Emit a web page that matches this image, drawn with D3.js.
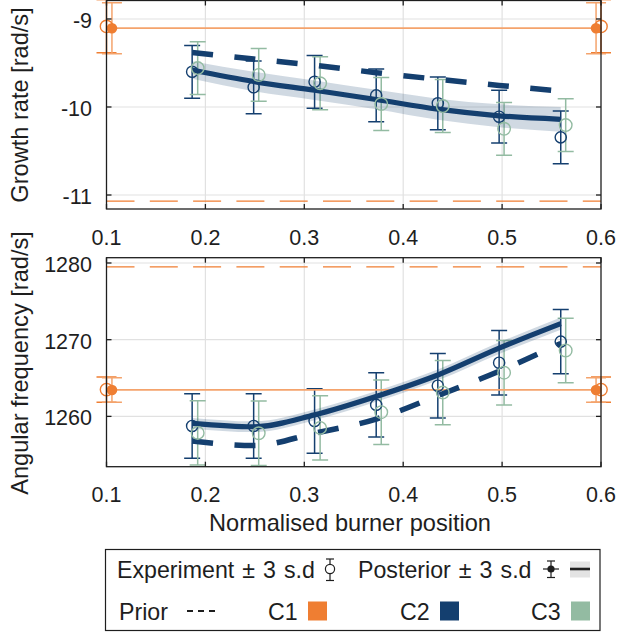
<!DOCTYPE html>
<html><head><meta charset="utf-8">
<script src="https://cdn.jsdelivr.net/npm/d3@7"></script>
<style>
html,body{margin:0;padding:0;background:#fff;}
svg{display:block;font-family:"Liberation Sans",Arial,Helvetica,sans-serif;}
</style></head>
<body><svg id="chart" width="619" height="634"></svg>
<script>
// ---------- data ----------
const xTicks = [0.1, 0.2, 0.3, 0.4, 0.5, 0.6];
const growthTicks = [-11, -10, -9];
const freqTicks = [1260, 1270, 1280];

const c2PosX = [0.1866, 0.2488, 0.3104, 0.3727, 0.435, 0.497, 0.5593];
const c3PosX = [0.1922, 0.2539, 0.316, 0.3778, 0.44, 0.502, 0.5643];

// growth rate
const c2GrowthExp = [-9.60, -9.776, -9.714, -9.868, -9.958, -10.11, -10.345];
const c3GrowthExp = [-9.558, -9.636, -9.73, -9.966, -9.989, -10.248, -10.206];
const c2GrowthErr = [0.30, 0.30, 0.30, 0.30, 0.30, 0.30, 0.30];
const c3GrowthErr = [0.30, 0.30, 0.30, 0.30, 0.30, 0.30, 0.30];
const c2GrowthPost = [-9.58, -9.71, -9.81, -9.915, -10.025, -10.10, -10.14];
const c2GrowthPostBand = [0.10, 0.11, 0.11, 0.11, 0.12, 0.13, 0.14];
const c2GrowthPrior = [-9.38, -9.455, -9.525, -9.61, -9.685, -9.755, -9.82];

// angular frequency
const c2FreqExp = [1258.75, 1258.75, 1259.4, 1261.5, 1264.0, 1267.0, 1269.75];
const c3FreqExp = [1257.85, 1257.8, 1258.5, 1260.55, 1263.1, 1265.7, 1268.6];
const c2FreqErr = [4.2, 4.2, 4.2, 4.2, 4.2, 4.2, 4.2];
const c3FreqErr = [4.2, 4.2, 4.2, 4.2, 4.2, 4.2, 4.2];
const c2FreqPost = [1259.1, 1258.65, 1260.2, 1262.6, 1265.4, 1268.9, 1272.1];
const c2FreqPostBand = [0.7, 0.7, 0.7, 0.7, 0.7, 0.75, 0.8];
const c2FreqPrior = [1256.8, 1256.2, 1257.8, 1259.65, 1262.7, 1265.9, 1269.5];

// C1 (flat case)
const c1LineX = [0.1, 0.6];
const c1ExpX = [0.1, 0.6];
const c1PostX = [0.1055, 0.595];
const c1GrowthExp = [-9.085, -9.085];
const c1GrowthExpErr = [0.30, 0.30];
const c1GrowthPost = [-9.105, -9.105];
const c1GrowthPostErr = [0.29, 0.29];
const c1GrowthPrior = [-11.07, -11.07];
const c1FreqExp = [1263.5, 1263.5];
const c1FreqExpErr = [1.65, 1.65];
const c1FreqPost = [1263.45, 1263.45];
const c1FreqPostErr = [1.6, 1.6];
const c1FreqPrior = [1279.5, 1279.5];

const legendRow1 = ["Experiment \u00b1 3 s.d", "Posterior \u00b1 3 s.d"];
const legendRow2 = ["Prior", "C1", "C2", "C3"];

// ---------- styles ----------
const C1 = "#EF7E32", C1L = "#F4A36C", C2 = "#143F6F", C3 = "#93BBA2";
const INK = "#1e1e1e", GRID = "#e1e1e1";
const FONT_TICK = 21.5, FONT_LAB = 23.6, FONT_LEG = 23.2;

const svg = d3.select("#chart");
const xL = 106.5, xR = 601;
const x = d3.scaleLinear().domain([0.1, 0.6]).range([xL, xR]);

const panels = [
  {top: 0.5, bot: 209, domain: [-11.159, -8.79], ticks: growthTicks, label: "Growth rate [rad/s]",
   c2Exp: c2GrowthExp, c3Exp: c3GrowthExp, c2Err: c2GrowthErr, c3Err: c3GrowthErr,
   post: c2GrowthPost, band: c2GrowthPostBand, prior: c2GrowthPrior,
   c1Exp: c1GrowthExp, c1ExpErr: c1GrowthExpErr, c1Post: c1GrowthPost, c1PostErr: c1GrowthPostErr, c1Prior: c1GrowthPrior},
  {top: 257.7, bot: 466.7, domain: [1253.44, 1280.69], ticks: freqTicks, label: "Angular frequency [rad/s]",
   c2Exp: c2FreqExp, c3Exp: c3FreqExp, c2Err: c2FreqErr, c3Err: c3FreqErr,
   post: c2FreqPost, band: c2FreqPostBand, prior: c2FreqPrior,
   c1Exp: c1FreqExp, c1ExpErr: c1FreqExpErr, c1Post: c1FreqPost, c1PostErr: c1FreqPostErr, c1Prior: c1FreqPrior}
];

let p;
function errorBars(g, xs, ys, es, color, cap, sw) {
  xs.forEach((xv, i) => {
    const cx = x(xv), y0 = p.y(ys[i] - es[i]), y1 = p.y(ys[i] + es[i]);
    g.append("line").attr("x1", cx).attr("x2", cx).attr("y1", y0).attr("y2", y1)
      .attr("stroke", color).attr("stroke-width", sw);
    [y0, y1].forEach(yy => g.append("line").attr("x1", cx - cap/2).attr("x2", cx + cap/2)
      .attr("y1", yy).attr("y2", yy).attr("stroke", color).attr("stroke-width", sw));
  });
}

panels.forEach((pp, k) => {
  p = pp;
  p.y = d3.scaleLinear().domain(p.domain).range([p.bot, p.top]);
  const g = svg.append("g");
  const clipId = "clip" + k;
  svg.append("clipPath").attr("id", clipId).append("rect")
    .attr("x", 0).attr("y", p.top).attr("width", 619).attr("height", p.bot - p.top);
  const clipXY = "clipxy" + k;
  svg.append("clipPath").attr("id", clipXY).append("rect")
    .attr("x", xL).attr("y", p.top).attr("width", xR - xL).attr("height", p.bot - p.top);

  // grid
  xTicks.slice(1, -1).forEach(t => g.append("line").attr("x1", x(t)).attr("x2", x(t))
    .attr("y1", p.top).attr("y2", p.bot).attr("stroke", GRID).attr("stroke-width", 1.2));
  p.ticks.forEach(t => g.append("line").attr("x1", xL).attr("x2", xR)
    .attr("y1", p.y(t)).attr("y2", p.y(t)).attr("stroke", GRID).attr("stroke-width", 1.2));

  const gc = g.append("g").attr("clip-path", `url(#${clipId})`);
  const gxy = g.append("g").attr("clip-path", `url(#${clipXY})`);

  // band
  const area = d3.area().x((d, i) => x(c2PosX[i]))
    .y0((d, i) => p.y(p.post[i] - p.band[i])).y1((d, i) => p.y(p.post[i] + p.band[i]))
    .curve(d3.curveMonotoneX);
  gxy.append("path").attr("d", area(p.post)).attr("fill", C2).attr("fill-opacity", 0.2);

  // C1 lines
  const hline = d3.line().x((d, i) => x(c1LineX[i])).y(d => p.y(d));
  gxy.append("path").attr("d", hline(p.c1Prior)).attr("fill", "none").attr("stroke", C1)
    .attr("stroke-width", 1.3).attr("stroke-dasharray", "28,15.3");
  gxy.append("path").attr("d", hline(p.c1Post)).attr("fill", "none").attr("stroke", C1L)
    .attr("stroke-width", 1.8);

  // posterior and prior lines
  const line = d3.line().x((d, i) => x(c2PosX[i])).y(d => p.y(d)).curve(d3.curveMonotoneX);
  gxy.append("path").attr("d", line(p.post)).attr("fill", "none").attr("stroke", C2)
    .attr("stroke-width", 5.2);
  gxy.append("path").attr("d", line(p.prior)).attr("fill", "none").attr("stroke", C2)
    .attr("stroke-width", 5.5).attr("stroke-dasharray", "21,21.5");

  // experiments
  errorBars(gc, c2PosX, p.c2Exp, p.c2Err, C2, 16, 1.5);
  errorBars(gc, c3PosX, p.c3Exp, p.c3Err, C3, 16, 1.5);
  c2PosX.forEach((xv, i) => g.append("circle").attr("cx", x(xv)).attr("cy", p.y(p.c2Exp[i]))
    .attr("r", 5.6).attr("fill", "none").attr("stroke", C2).attr("stroke-width", 1.4));
  c3PosX.forEach((xv, i) => g.append("circle").attr("cx", x(xv)).attr("cy", p.y(p.c3Exp[i]))
    .attr("r", 6.3).attr("fill", "none").attr("stroke", C3).attr("stroke-width", 1.4));

  // C1 markers
  errorBars(gc, c1ExpX, p.c1Exp, p.c1ExpErr, C1, 20, 1.5);
  errorBars(gc, c1PostX, p.c1Post, p.c1PostErr, C1L, 20, 1.5);
  c1ExpX.forEach((xv, i) => g.append("circle").attr("cx", x(xv)).attr("cy", p.y(p.c1Exp[i]))
    .attr("r", 6.2).attr("fill", "none").attr("stroke", C1).attr("stroke-width", 1.4));
  c1PostX.forEach((xv, i) => g.append("circle").attr("cx", x(xv)).attr("cy", p.y(p.c1Post[i]))
    .attr("r", 5.3).attr("fill", C1));

  // axes (inward ticks on all sides)
  const ax = g.append("g").attr("stroke", INK).attr("fill", "none");
  ax.append("rect").attr("x", xL).attr("y", p.top).attr("width", xR - xL).attr("height", p.bot - p.top)
    .attr("stroke-width", 1.3);
  const TL = 5;
  xTicks.forEach(t => {
    ax.append("line").attr("x1", x(t)).attr("x2", x(t)).attr("y1", p.bot).attr("y2", p.bot - TL).attr("stroke-width", 1.3);
    ax.append("line").attr("x1", x(t)).attr("x2", x(t)).attr("y1", p.top).attr("y2", p.top + TL).attr("stroke-width", 1.3);
    g.append("text").attr("x", x(t)).attr("y", p.bot + 35.5).attr("text-anchor", "middle")
      .attr("font-size", FONT_TICK).attr("fill", INK).text(d3.format(".1f")(t));
  });
  p.ticks.forEach(t => {
    ax.append("line").attr("x1", xL).attr("x2", xL + TL).attr("y1", p.y(t)).attr("y2", p.y(t)).attr("stroke-width", 1.3);
    ax.append("line").attr("x1", xR).attr("x2", xR - TL).attr("y1", p.y(t)).attr("y2", p.y(t)).attr("stroke-width", 1.3);
    g.append("text").attr("x", 92).attr("y", p.y(t) + 9).attr("text-anchor", "end")
      .attr("font-size", FONT_TICK).attr("fill", INK).text(String(t));
  });
  g.append("text").attr("transform", `translate(27.5,${k === 0 ? 105 : 363}) rotate(-90)`)
    .attr("text-anchor", "middle").attr("font-size", FONT_LAB).attr("fill", INK).text(p.label);
});

svg.append("text").attr("x", 350).attr("y", 531).attr("text-anchor", "middle")
  .attr("font-size", FONT_LAB).attr("fill", INK).text("Normalised burner position");

// ---------- legend ----------
const lg = svg.append("g");
lg.append("rect").attr("x", 105.5).attr("y", 549.5).attr("width", 494.5).attr("height", 81)
  .attr("fill", "#fff").attr("stroke", INK).attr("stroke-width", 1.2);
const r1 = 577.5, r2 = 619.5, s1 = 569, s2 = 611;
lg.append("text").attr("x", 117).attr("y", r1).attr("font-size", FONT_LEG).attr("word-spacing", 1.6)
  .attr("fill", INK).text(legendRow1[0]);
lg.append("text").attr("x", 358).attr("y", r1).attr("font-size", FONT_LEG).attr("word-spacing", 1.6)
  .attr("fill", INK).text(legendRow1[1]);
// experiment symbol
lg.append("line").attr("x1", 330).attr("x2", 330).attr("y1", 559).attr("y2", 580.5).attr("stroke", INK).attr("stroke-width", 1.2);
[559, 580.5].forEach(yy => lg.append("line").attr("x1", 326).attr("x2", 334).attr("y1", yy).attr("y2", yy).attr("stroke", INK).attr("stroke-width", 1.2));
lg.append("circle").attr("cx", 330).attr("cy", s1).attr("r", 4.6).attr("fill", "#fff").attr("stroke", INK).attr("stroke-width", 1.2);
// posterior symbol
lg.append("line").attr("x1", 543).attr("x2", 559).attr("y1", s1).attr("y2", s1).attr("stroke", INK).attr("stroke-width", 1.2);
lg.append("line").attr("x1", 551).attr("x2", 551).attr("y1", 561).attr("y2", 577.5).attr("stroke", INK).attr("stroke-width", 1.2);
[561, 577.5].forEach(yy => lg.append("line").attr("x1", 547).attr("x2", 555).attr("y1", yy).attr("y2", yy).attr("stroke", INK).attr("stroke-width", 1.2));
lg.append("circle").attr("cx", 551).attr("cy", s1).attr("r", 3.6).attr("fill", INK);
lg.append("rect").attr("x", 570).attr("y", 561.5).attr("width", 20).attr("height", 16).attr("fill", "#e3e3e3");
lg.append("line").attr("x1", 570).attr("x2", 590).attr("y1", s1).attr("y2", s1).attr("stroke", INK).attr("stroke-width", 2.6);
// row 2
lg.append("text").attr("x", 119).attr("y", r2).attr("font-size", FONT_LEG).attr("fill", INK).text(legendRow2[0]);
lg.append("line").attr("x1", 187).attr("x2", 215).attr("y1", s2).attr("y2", s2).attr("stroke", INK)
  .attr("stroke-width", 2).attr("stroke-dasharray", "6,5");
const swatches = [[268, 308, C1], [400, 440, C2], [531, 571, C3]];
swatches.forEach(([tx, sx, col], i) => {
  lg.append("text").attr("x", tx).attr("y", r2).attr("font-size", FONT_LEG).attr("fill", INK).text(legendRow2[i + 1]);
  lg.append("rect").attr("x", sx).attr("y", 601.5).attr("width", 19).attr("height", 19).attr("fill", col);
});
</script></body></html>
